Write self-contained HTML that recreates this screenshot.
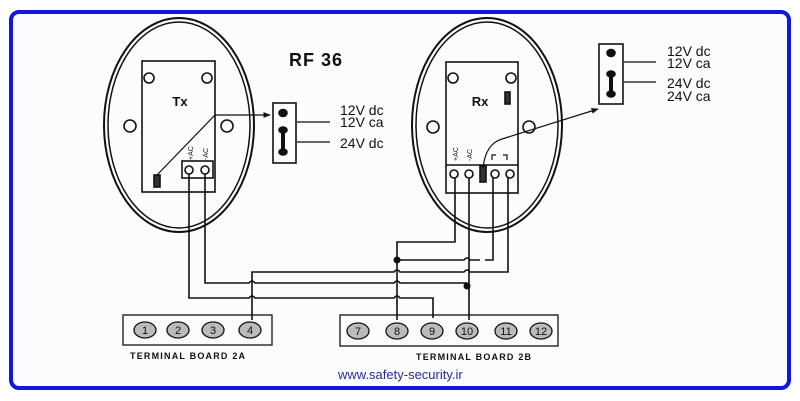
<!DOCTYPE html>
<html><head><style>
html,body{margin:0;padding:0;background:#fff;}
svg{display:block;}
text{font-family:"Liberation Sans",sans-serif;fill:#111;}
</style></head><body>
<svg width="800" height="401" viewBox="0 0 800 401" xmlns="http://www.w3.org/2000/svg">
<defs>
<marker id="ar" viewBox="0 0 10 10" refX="9" refY="5" markerWidth="6" markerHeight="6" orient="auto"><path d="M0,1 L10,5 L0,9 z" fill="#111"/></marker>
</defs>
<rect x="0" y="0" width="800" height="401" fill="#fff"/>
<rect x="11" y="12" width="778" height="376" rx="8" fill="#fbfcfd" stroke="#1515e0" stroke-width="4"/>
<g stroke="#111" fill="none" stroke-width="1.6">
<!-- Tx -->
<ellipse cx="179" cy="125" rx="75" ry="107" stroke-width="2"/>
<ellipse cx="179" cy="125" rx="71" ry="103" stroke-width="1.5"/>
<rect x="142" y="61" width="73" height="131"/>
<circle cx="149" cy="78" r="5"/><circle cx="207" cy="78" r="5"/>
<circle cx="130" cy="126" r="6"/><circle cx="227" cy="126" r="6"/>
<rect x="182" y="161" width="31" height="17"/>
<circle cx="189" cy="170" r="4"/><circle cx="205" cy="170" r="4"/>
<rect x="154" y="175" width="6" height="12" fill="#333"/>
<polyline points="157,175 215,115 270,115" marker-end="url(#ar)" stroke-width="1.2"/>
<rect x="273" y="103" width="23" height="60"/>
<ellipse cx="283" cy="113" rx="4" ry="3.5" fill="#111"/>
<line x1="283" y1="130" x2="283" y2="151" stroke-width="4"/>
<ellipse cx="283" cy="130" rx="4" ry="3" fill="#111"/>
<ellipse cx="283" cy="152" rx="4" ry="3" fill="#111"/>
<line x1="297" y1="122" x2="330" y2="122" stroke-width="1.2"/>
<line x1="297" y1="142" x2="330" y2="142" stroke-width="1.2"/>
<!-- Rx -->
<ellipse cx="487" cy="125" rx="75" ry="107" stroke-width="2"/>
<ellipse cx="487" cy="125" rx="71" ry="103" stroke-width="1.5"/>
<rect x="446" y="62" width="72" height="131"/>
<circle cx="453" cy="78" r="5"/><circle cx="511" cy="78" r="5"/>
<circle cx="433" cy="127" r="6"/><circle cx="529" cy="127" r="6"/>
<line x1="446" y1="165" x2="518" y2="165"/>
<rect x="505" y="92" width="5" height="12" fill="#333"/>
<circle cx="454" cy="174" r="4"/><circle cx="469" cy="174" r="4"/><circle cx="495" cy="174" r="4"/><circle cx="510" cy="174" r="4"/>
<rect x="480" y="166" width="6" height="16" fill="#333"/>
<path d="M492,160 v-5 h4 M503,155 h4 v5" stroke-width="1.2"/>
<path d="M483,168 C485,150 492,142 502,139 L598,109" marker-end="url(#ar)" stroke-width="1.2"/>
<rect x="599" y="44" width="24" height="60"/>
<ellipse cx="611" cy="53" rx="4" ry="3.5" fill="#111"/>
<line x1="611" y1="74" x2="611" y2="93" stroke-width="4"/>
<ellipse cx="611" cy="74" rx="4" ry="3" fill="#111"/>
<ellipse cx="611" cy="94" rx="4" ry="3" fill="#111"/>
<line x1="624" y1="62" x2="656" y2="62" stroke-width="1.2"/>
<line x1="624" y1="82" x2="656" y2="82" stroke-width="1.2"/>
<!-- wires -->
<path d="M205,174 V283 H249 q3,-4 6,0 H394 q3,-4 6,0 H467"/>
<path d="M189,174 V298 H249 q3,-4 6,0 H394 q3,-4 6,0 H433 V318"/>
<path d="M252,320 V272 H394 q3,-4 6,0 H464 q3,-4 6,0 H508 V178"/>
<path d="M397,320 V242 H455 V178"/>
<path d="M397,260 H464 q3,-4 6,0 H480 M485,260 H493 V178"/>
<path d="M469,178 V320"/>
</g>
<circle cx="397" cy="260" r="3.5" fill="#111"/>
<circle cx="467" cy="286" r="3.5" fill="#111"/>
<text x="180" y="106" font-size="13" font-weight="bold" text-anchor="middle">Tx</text>
<text x="480" y="106" font-size="13" font-weight="bold" text-anchor="middle">Rx</text>
<text x="289" y="66" font-size="18" font-weight="bold" letter-spacing="1">RF 36</text>
<g font-size="14">
<text x="340" y="115">12V dc</text><text x="340" y="127">12V ca</text><text x="340" y="148">24V dc</text>
<text x="667" y="56">12V dc</text><text x="667" y="68">12V ca</text><text x="667" y="88">24V dc</text><text x="667" y="101">24V ca</text>
</g>
<g font-size="7">
<text transform="translate(193,160) rotate(-90)">+AC</text>
<text transform="translate(208,160) rotate(-90)">-AC</text>
<text transform="translate(458,161) rotate(-90)">+AC</text>
<text transform="translate(472,161) rotate(-90)">-AC</text>
</g>
<!-- terminal boards -->
<g stroke="#111" stroke-width="1.3">
<rect x="123" y="315" width="149" height="30" fill="none"/>
<rect x="340" y="315" width="218" height="31" fill="none"/>
<g fill="#bbb">
<ellipse cx="145" cy="330" rx="11" ry="8"/><ellipse cx="178" cy="330" rx="11" ry="8"/><ellipse cx="213" cy="330" rx="11" ry="8"/><ellipse cx="250" cy="330" rx="11" ry="8"/>
<ellipse cx="358" cy="331" rx="11" ry="8"/><ellipse cx="397" cy="331" rx="11" ry="8"/><ellipse cx="432" cy="331" rx="11" ry="8"/><ellipse cx="467" cy="331" rx="11" ry="8"/><ellipse cx="506" cy="331" rx="11" ry="8"/><ellipse cx="541" cy="331" rx="11" ry="8"/>
</g>
</g>
<g font-size="11" text-anchor="middle">
<text x="145" y="334">1</text><text x="178" y="334">2</text><text x="213" y="334">3</text><text x="250" y="334">4</text>
<text x="358" y="335">7</text><text x="397" y="335">8</text><text x="432" y="335">9</text><text x="467" y="335">10</text><text x="506" y="335">11</text><text x="541" y="335">12</text>
</g>
<text x="130" y="359" font-size="9" font-weight="bold" letter-spacing="1.2">TERMINAL BOARD 2A</text>
<text x="416" y="360" font-size="9" font-weight="bold" letter-spacing="1.2">TERMINAL BOARD 2B</text>
<text x="338" y="379" font-size="13" style="fill:#2a2a9a">www.safety-security.ir</text>
</svg>
</body></html>
